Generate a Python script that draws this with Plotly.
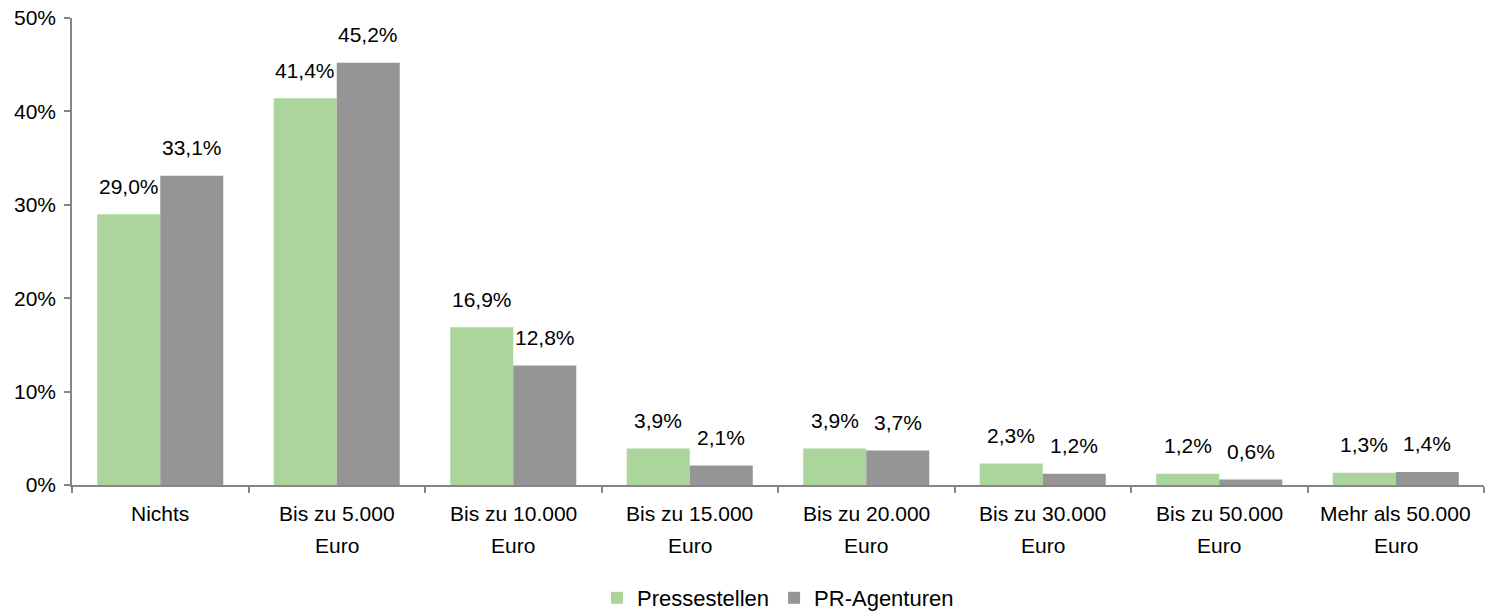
import plotly.graph_objects as go

categories = ["Nichts", "Bis zu 5.000 Euro", "Bis zu 10.000 Euro", "Bis zu 15.000 Euro",
              "Bis zu 20.000 Euro", "Bis zu 30.000 Euro", "Bis zu 50.000 Euro", "Mehr als 50.000 Euro"]
label_line1 = ["Nichts", "Bis zu 5.000", "Bis zu 10.000", "Bis zu 15.000",
               "Bis zu 20.000", "Bis zu 30.000", "Bis zu 50.000", "Mehr als 50.000"]
label_line2 = ["", "Euro", "Euro", "Euro", "Euro", "Euro", "Euro", "Euro"]
pressestellen = [29.0, 41.4, 16.9, 3.9, 3.9, 2.3, 1.2, 1.3]
pr_agenturen = [33.1, 45.2, 12.8, 2.1, 3.7, 1.2, 0.6, 1.4]
y_ticks = [0, 10, 20, 30, 40, 50]

GREEN = "#acd59b"
GREY = "#959595"
FONT = "Liberation Sans, Arial, sans-serif"
FS = 21

def fmt(v):
    return f"{v:.1f}".replace(".", ",") + "%"

fig = go.Figure()
fig.add_trace(go.Bar(x=categories, y=pressestellen, name="Pressestellen",
                     marker=dict(color=GREEN, line=dict(width=0))))
fig.add_trace(go.Bar(x=categories, y=pr_agenturen, name="PR-Agenturen",
                     marker=dict(color=GREY, line=dict(width=0))))

annotations = []
half = 0.5 * (1 - 0.286) / 2
for i, c in enumerate(categories):
    annotations.append(dict(x=i - half, y=pressestellen[i], xref="x", yref="y", text=fmt(pressestellen[i]),
                            showarrow=False, yanchor="middle", yshift=28,
                            font=dict(size=FS, color="#000", family=FONT)))
    annotations.append(dict(x=i + half, y=pr_agenturen[i], xref="x", yref="y", text=fmt(pr_agenturen[i]),
                            showarrow=False, yanchor="middle", yshift=28,
                            font=dict(size=FS, color="#000", family=FONT)))
    annotations.append(dict(x=i, y=0, xref="x", yref="y", text=label_line1[i], showarrow=False,
                            yanchor="middle", yshift=-28, font=dict(size=FS, color="#000", family=FONT)))
    if label_line2[i]:
        annotations.append(dict(x=i, y=0, xref="x", yref="y", text=label_line2[i], showarrow=False,
                                yanchor="middle", yshift=-60, font=dict(size=FS, color="#000", family=FONT)))

fig.update_layout(
    width=1487, height=616,
    margin=dict(l=72, r=3, t=18, b=131, autoexpand=False),
    paper_bgcolor="white", plot_bgcolor="white",
    barmode="group", bargap=0.286, bargroupgap=0,
    font=dict(family=FONT, size=FS, color="#000"),
    showlegend=True,
    legend=dict(orientation="h", x=0.5, xanchor="center", y=-0.242, yanchor="middle",
                font=dict(size=22, family=FONT, color="#000"), itemwidth=30, tracegroupgap=0),
    annotations=annotations,
)
fig.update_xaxes(type="category", range=[-0.5, len(categories) - 0.5], showline=True,
                 linecolor="#868686", linewidth=1.5, ticks="outside", tickson="boundaries",
                 ticklen=6, tickcolor="#868686", tickwidth=1.5, showticklabels=False,
                 showgrid=False, zeroline=False)
fig.update_yaxes(range=[0, 50], tickvals=y_ticks, ticktext=[f"{v}%" for v in y_ticks],
                 showline=True, linecolor="#868686", linewidth=1.5, ticks="outside", ticklen=6,
                 tickcolor="#868686", tickwidth=1.5, showgrid=False, zeroline=False,
                 tickfont=dict(size=FS, family=FONT, color="#000"), ticklabelstandoff=4)

fig.write_html("out.html", config={"displayModeBar": False},
               post_script="document.body.style.margin='0px';")
